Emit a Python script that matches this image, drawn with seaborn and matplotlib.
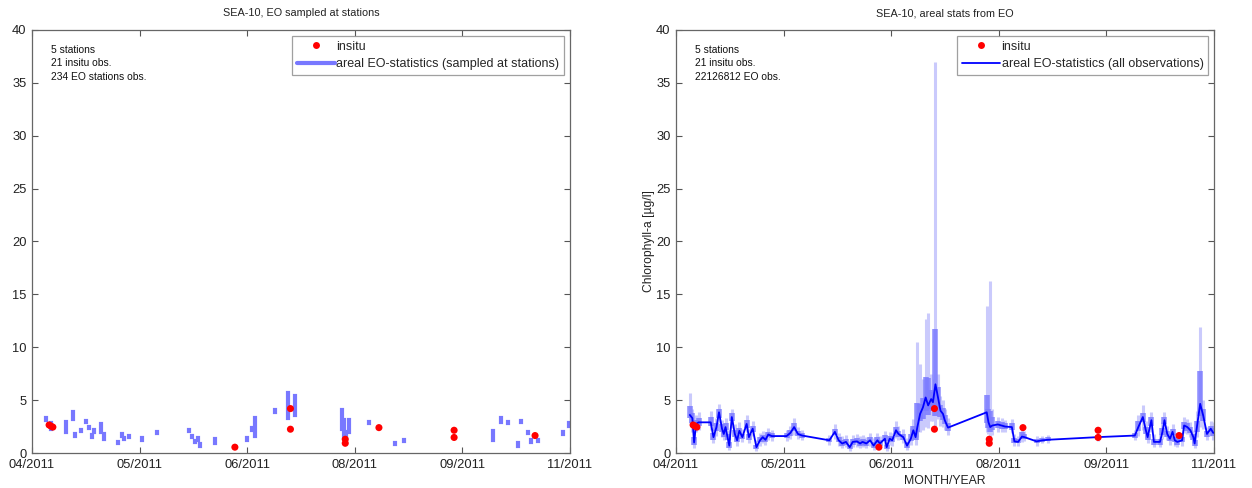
import numpy as np
import pandas as pd
import matplotlib
matplotlib.use("Agg")
import matplotlib.pyplot as plt
import seaborn as sns
from matplotlib.lines import Line2D

# ---------------- data ----------------
# x axis: days since 2011-04-01 (MATLAB datetick-style, 6 evenly spaced ticks)
x_max = 214
tick_labels = ["04/2011", "05/2011", "06/2011", "08/2011", "09/2011", "11/2011"]
y_ticks = [0, 5, 10, 15, 20, 25, 30, 35, 40]

insitu_day = [6.8, 7.5, 8.3, 80.7, 102.8, 102.8, 124.6, 124.6, 138.0, 167.9, 167.9, 200.1]
insitu_val = [2.65, 2.55, 2.45, 0.55, 4.2, 2.25, 1.3, 0.92, 2.4, 2.15, 1.47, 1.65]

# EO sampled at stations: vertical ranges
st_day = [5.4, 7.5, 13.4, 16.4, 17.3, 19.4, 21.6, 22.6, 23.7, 24.6, 27.6, 28.6,
          34.3, 35.7, 36.4, 38.7, 43.7, 49.7, 62.4, 63.7, 65.0, 66.0, 67.0, 72.7,
          85.6, 87.7, 88.7, 96.7, 102.0, 104.7, 123.3, 124.3, 125.0, 126.0, 134.0,
          144.3, 148.0, 183.4, 186.4, 189.4, 193.3, 194.4, 197.3, 198.4, 201.4,
          211.4, 213.6]
st_lo = [3.1, 2.3, 2.0, 3.2, 1.65, 2.05, 2.9, 2.35, 1.55, 1.95, 1.95, 1.3,
         0.9, 1.65, 1.3, 1.5, 1.25, 1.85, 2.05, 1.5, 1.0, 1.25, 0.65, 0.9,
         1.25, 2.15, 1.6, 3.9, 3.3, 3.6, 2.25, 1.55, 1.05, 2.0, 2.8,
         0.85, 1.1, 1.2, 2.9, 2.85, 0.7, 2.9, 1.85, 1.05, 1.1,
         1.75, 2.6]
st_hi = [3.3, 2.8, 2.9, 3.9, 1.8, 2.2, 3.05, 2.5, 1.7, 2.15, 2.7, 1.8,
         1.05, 1.75, 1.45, 1.6, 1.4, 1.95, 2.2, 1.65, 1.15, 1.4, 0.85, 1.3,
         1.4, 2.35, 3.3, 4.1, 5.7, 5.35, 4.05, 3.15, 2.0, 3.15, 2.95,
         0.95, 1.25, 2.05, 3.3, 2.95, 0.95, 3.0, 1.95, 1.2, 1.2,
         2.0, 2.8]

# areal EO statistics (all observations)
eo_day = [5.5, 6.5, 7.2, 8.0, 9.0, 13.8, 14.9, 16.1, 17.1, 18.3, 19.0, 19.7,
          20.5, 21.2, 22.2, 23.4, 24.3, 25.2, 26.4, 28.1, 29.0, 30.5, 32.0, 33.4,
          34.5, 35.6, 36.7, 38.1, 44.0, 45.5, 47.0, 48.5, 50.2, 61.0, 63.2, 64.7,
          66.1, 67.6, 69.1, 70.3, 72.0, 73.2, 74.2, 75.7, 77.2, 78.6, 80.1, 81.1,
          83.1, 83.8, 85.0, 86.0, 87.5, 88.5, 90.4, 91.9, 93.4, 94.4, 95.3, 96.0,
          97.1, 98.2, 99.3, 100.3, 101.5, 102.2, 103.2, 104.1, 105.2, 106.2, 106.9, 108.2,
          123.6, 124.3, 125.0, 125.8, 128.0, 129.5, 130.9, 133.6, 134.6, 136.1, 137.6, 138.6,
          143.4, 145.7, 147.9, 167.7, 182.5, 183.9, 185.7, 186.9, 187.6, 189.1, 190.1, 192.5,
          193.5, 194.3, 195.4, 196.5, 197.5, 198.4, 199.4, 201.3, 202.1, 203.4, 204.6, 205.8,
          206.3, 207.2, 208.5, 209.7, 211.2, 212.7, 213.7]
eo_mean = [3.6, 3.3, 1.0, 2.75, 2.9, 2.9, 1.5, 2.45, 3.85, 2.3, 1.8, 2.45,
           1.5, 0.7, 3.4, 1.8, 1.2, 2.1, 1.5, 2.75, 1.5, 2.3, 0.55, 1.2,
           1.5, 1.25, 1.75, 1.6, 1.6, 1.9, 2.45, 1.8, 1.65, 1.2, 2.0, 1.2,
           0.9, 1.05, 0.55, 1.05, 1.1, 0.9, 1.05, 0.9, 1.2, 0.7, 1.2, 0.9,
           1.35, 0.55, 1.35, 1.2, 2.15, 1.8, 1.5, 0.7, 1.35, 2.15, 1.5, 2.45,
           3.7, 4.3, 5.25, 4.5, 5.1, 4.8, 6.5, 5.4, 4.0, 3.7, 3.1, 2.4,
           3.85, 2.9, 2.45, 2.6, 2.7, 2.6, 2.5, 2.45, 1.1, 1.05, 1.55, 1.5,
           1.1, 1.2, 1.25, 1.5, 1.65, 2.45, 3.4, 2.15, 1.5, 3.1, 1.05, 1.05,
           2.0, 3.1, 1.8, 1.35, 2.0, 1.2, 1.05, 1.2, 2.6, 2.45, 2.15, 1.5,
           0.9, 2.45, 4.65, 3.55, 1.8, 2.3, 1.9]
eo_q_lo = [3.3, 2.8, 0.8, 2.4, 2.6, 2.6, 1.2, 2.1, 3.3, 2.0, 1.5, 2.2,
           1.2, 0.5, 3.0, 1.5, 1.0, 1.8, 1.3, 2.4, 1.2, 2.0, 0.4, 1.0,
           1.2, 1.0, 1.5, 1.4, 1.4, 1.6, 2.1, 1.6, 1.4, 1.0, 1.7, 1.0,
           0.7, 0.8, 0.4, 0.8, 0.9, 0.7, 0.8, 0.7, 1.0, 0.5, 0.9, 0.7,
           1.1, 0.4, 1.1, 1.0, 1.8, 1.5, 1.2, 0.5, 1.1, 1.8, 1.2, 2.0,
           3.0, 3.2, 4.0, 3.6, 4.2, 4.0, 3.5, 4.3, 3.4, 3.1, 2.7, 2.1,
           2.8, 2.4, 2.0, 2.2, 2.4, 2.3, 2.3, 2.2, 0.9, 0.9, 1.3, 1.3,
           0.9, 1.0, 1.1, 1.3, 1.4, 2.1, 2.9, 1.8, 1.2, 2.6, 0.8, 0.8,
           1.7, 2.7, 1.5, 1.1, 1.7, 1.0, 0.8, 1.0, 2.3, 2.1, 1.9, 1.2,
           0.7, 2.0, 3.5, 3.0, 1.5, 2.0, 1.6]
eo_q_hi = [4.4, 3.8, 1.5, 3.1, 3.3, 3.4, 1.9, 2.8, 4.2, 2.7, 2.1, 2.8,
           1.8, 1.0, 3.8, 2.2, 1.5, 2.4, 1.8, 3.1, 1.8, 2.6, 0.8, 1.5,
           1.7, 1.5, 2.0, 1.9, 1.9, 2.2, 2.8, 2.1, 1.9, 1.4, 2.3, 1.5,
           1.2, 1.3, 0.8, 1.3, 1.4, 1.2, 1.3, 1.2, 1.5, 1.0, 1.5, 1.2,
           1.7, 0.8, 1.6, 1.5, 2.5, 2.1, 1.8, 1.0, 1.8, 2.6, 2.0, 4.7,
           4.6, 5.2, 7.2, 7.1, 6.0, 5.8, 11.7, 6.2, 4.5, 4.3, 3.6, 2.8,
           5.5, 4.2, 4.0, 3.4, 3.0, 2.9, 2.8, 2.8, 1.4, 1.3, 2.0, 1.8,
           1.3, 1.4, 1.5, 1.7, 1.9, 3.0, 3.8, 2.5, 1.8, 3.4, 1.3, 1.3,
           2.4, 3.4, 2.1, 1.6, 2.3, 1.5, 1.3, 1.5, 2.9, 2.8, 2.5, 1.8,
           1.2, 3.0, 7.8, 4.2, 2.1, 2.6, 2.4]
eo_min = [2.8, 2.0, 0.5, 2.0, 2.2, 2.2, 0.9, 1.6, 2.8, 1.5, 1.2, 1.7,
          0.9, 0.3, 2.4, 1.1, 0.7, 1.4, 1.0, 2.0, 0.9, 1.6, 0.2, 0.7,
          0.9, 0.8, 1.2, 1.1, 1.1, 1.3, 1.7, 1.3, 1.2, 0.8, 1.3, 0.7,
          0.5, 0.6, 0.2, 0.6, 0.6, 0.5, 0.6, 0.5, 0.7, 0.3, 0.6, 0.5,
          0.8, 0.2, 0.8, 0.7, 1.4, 1.2, 0.9, 0.3, 0.8, 1.3, 0.8, 1.5,
          2.0, 2.2, 2.5, 2.4, 3.0, 3.0, 2.5, 3.2, 2.6, 2.5, 2.2, 1.7,
          2.0, 1.8, 1.5, 1.7, 2.0, 2.0, 2.0, 1.9, 0.7, 0.7, 1.0, 1.1,
          0.7, 0.9, 0.9, 1.1, 1.2, 1.6, 2.2, 1.4, 0.9, 2.0, 0.6, 0.6,
          1.3, 2.1, 1.2, 0.8, 1.3, 0.7, 0.6, 0.7, 1.9, 1.8, 1.5, 0.9,
          0.5, 1.5, 2.5, 2.3, 1.2, 1.6, 1.2]
eo_max = [5.7, 4.2, 2.2, 3.6, 3.9, 4.0, 2.4, 3.3, 4.6, 3.1, 2.6, 3.3,
          2.2, 1.5, 4.2, 2.7, 2.0, 2.9, 2.3, 3.6, 2.3, 3.0, 1.2, 1.9,
          2.1, 1.9, 2.4, 2.2, 2.2, 2.6, 3.3, 2.5, 2.2, 1.7, 2.7, 1.9,
          1.6, 1.7, 1.1, 1.7, 1.8, 1.6, 1.7, 1.5, 1.9, 1.4, 1.9, 1.6,
          2.1, 1.2, 2.0, 1.9, 3.0, 2.6, 2.3, 1.4, 2.4, 3.2, 2.8, 10.5,
          8.4, 7.0, 12.7, 13.2, 7.5, 7.0, 37.0, 7.5, 5.4, 5.0, 4.2, 3.3,
          13.9, 12.3, 16.3, 4.2, 3.4, 3.3, 3.1, 3.2, 1.8, 1.6, 2.6, 2.1,
          1.6, 1.6, 1.7, 1.9, 2.2, 3.6, 4.5, 3.0, 2.3, 3.9, 1.8, 1.8,
          2.9, 3.9, 2.6, 2.0, 2.7, 1.9, 1.7, 1.9, 3.4, 3.2, 2.9, 2.2,
          1.6, 4.0, 11.9, 5.0, 2.5, 3.0, 2.9]

text_left = ["5 stations", "21 insitu obs.", "234 EO stations obs."]
text_right = ["5 stations", "21 insitu obs.", "22126812 EO obs."]

# ---------------- style ----------------
sns.set_theme(style="white")
plt.rcParams["font.family"] = ["Liberation Sans", "DejaVu Sans"]

W, H = 1252, 488
fig = plt.figure(figsize=(W / 100, H / 100), dpi=100)
axL = fig.add_axes([32 / W, 35 / H, 538 / W, 423 / H])
axR = fig.add_axes([676 / W, 35 / H, 538 / W, 423 / H])

STATION_BLUE = "#7878ff"
DARK_BAR = "#7c7cff"
LIGHT_BAR = "#cacafc"

for ax in (axL, axR):
    ax.set_xlim(0, x_max)
    ax.set_ylim(0, 40)
    ax.set_xticks(np.linspace(0, x_max, len(tick_labels)))
    ax.set_xticklabels(tick_labels)
    ax.set_yticks(y_ticks)
    ax.tick_params(direction="in", top=True, right=True, length=4, width=0.8,
                   labelsize=9.3, color="#555555", labelcolor="#222222", pad=4,
                   bottom=True, left=True)
    for s in ax.spines.values():
        s.set_color("#666666")
        s.set_linewidth(0.9)
    ax.set_facecolor("white")

LEG_KW = dict(loc="upper right", fontsize=9, frameon=True, fancybox=False,
              edgecolor="#888888", borderaxespad=0.45, handlelength=3.0,
              handletextpad=0.15, borderpad=0.4, labelspacing=0.45)

# ---- left panel ----
axL.vlines(st_day, st_lo, st_hi, colors=STATION_BLUE, linewidth=3.0,
           capstyle="projecting", zorder=2)
sns.scatterplot(x=insitu_day, y=insitu_val, ax=axL, color="red", s=26,
                edgecolor="none", zorder=5, legend=False)
axL.set_title("SEA-10, EO sampled at stations", fontsize=7.8, pad=10, color="#222222")
axL.text(0.035, 0.965, "\n".join(text_left), transform=axL.transAxes,
         fontsize=7.4, va="top", ha="left", linespacing=1.45, color="#111111")
hL = [Line2D([], [], marker="o", color="red", ls="none", ms=5, mec="none"),
      Line2D([], [], color=STATION_BLUE, lw=3)]
legL = axL.legend(hL, ["insitu", "areal EO-statistics (sampled at stations)"], **LEG_KW)
legL.get_frame().set_linewidth(0.9)

# ---- right panel ----
axR.vlines(eo_day, eo_min, eo_max, colors=LIGHT_BAR, linewidth=2.2, zorder=1)
axR.vlines(eo_day, eo_q_lo, eo_q_hi, colors=DARK_BAR, linewidth=4.0, alpha=0.85, zorder=2)
df_eo = pd.DataFrame({"day": eo_day, "mean": eo_mean})
sns.lineplot(data=df_eo, x="day", y="mean", ax=axR, color="#0000ff", lw=1.3,
             estimator=None, sort=False, zorder=3)
sns.scatterplot(x=insitu_day, y=insitu_val, ax=axR, color="red", s=26,
                edgecolor="none", zorder=5, legend=False)
axR.set_title("SEA-10, areal stats from EO", fontsize=7.8, pad=10, color="#222222")
axR.set_xlabel("MONTH/YEAR", fontsize=8.8, labelpad=3, color="#222222")
axR.set_ylabel("Chlorophyll-a [µg/l]", fontsize=8.7, labelpad=1, color="#222222")
axL.set_xlabel("")
axL.set_ylabel("")
axR.text(0.035, 0.965, "\n".join(text_right), transform=axR.transAxes,
         fontsize=7.4, va="top", ha="left", linespacing=1.45, color="#111111")
hR = [Line2D([], [], marker="o", color="red", ls="none", ms=5, mec="none"),
      Line2D([], [], color="#0000ff", lw=1.3)]
legR = axR.legend(hR, ["insitu", "areal EO-statistics (all observations)"], **LEG_KW)
legR.get_frame().set_linewidth(0.9)

fig.savefig("out.png", dpi=100, facecolor="white")
